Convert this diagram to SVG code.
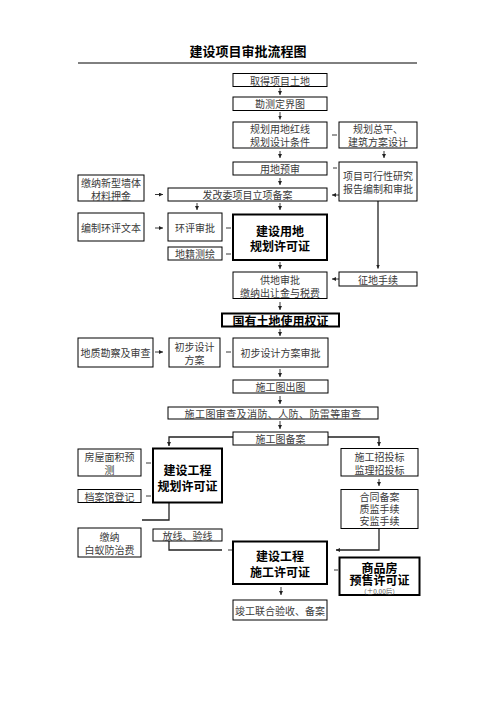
<svg xmlns="http://www.w3.org/2000/svg" width="496" height="702" viewBox="0 0 496 702">
<defs>
<marker id="ah" markerUnits="userSpaceOnUse" markerWidth="5" markerHeight="5" refX="4" refY="2" orient="auto">
<path d="M0,0 L4,2 L0,4 z" fill="#222"/>
</marker>
<style>
.b{fill:#fff;stroke:#000;stroke-width:1}
.k{fill:#fff;stroke:#000;stroke-width:2}
.t{font-family:"Noto Sans CJK SC","Noto Sans CJK JP",sans-serif;font-size:10px;fill:#3a3a3a;text-anchor:middle;dominant-baseline:central}
.h{font-family:"Noto Sans CJK SC","Noto Sans CJK JP",sans-serif;font-size:12px;font-weight:700;fill:#000;text-anchor:middle;dominant-baseline:central}
.s{font-family:"Noto Sans CJK SC","Noto Sans CJK JP",sans-serif;font-size:6.5px;fill:#555;text-anchor:middle;dominant-baseline:central}
.c line,.c polyline{stroke:#222;stroke-width:0.9;fill:none}
.a{marker-end:url(#ah)}
.w{stroke-width:1.3!important}
</style>
</defs>
<rect width="496" height="702" fill="#fff"/>
<g id="title">
<text x="248" y="50" style="font-family:'Noto Sans CJK SC',sans-serif;font-size:13px;font-weight:700;text-anchor:middle;dominant-baseline:central">建设项目审批流程图</text>
<line x1="78" y1="63" x2="417" y2="63" stroke="#000" stroke-width="1"/>
</g>
<g class="c" id="connectors">
<line class="a" x1="280" y1="88" x2="280" y2="95"/>
<line class="a" x1="280" y1="112" x2="280" y2="119.5"/>
<line x1="332" y1="135" x2="337" y2="135"/>
<line class="a" x1="280" y1="151" x2="280" y2="158"/>
<line class="a" x1="384" y1="151" x2="384" y2="158"/>
<line x1="333" y1="168" x2="337" y2="168"/>
<line class="a" x1="280" y1="178" x2="280" y2="185"/>
<line class="a" x1="155" y1="194.5" x2="163" y2="194.5"/>
<line class="a" x1="339" y1="195" x2="332" y2="195"/>
<line class="a" x1="197" y1="203" x2="197" y2="210"/>
<line class="a" x1="280" y1="203" x2="280" y2="210"/>
<line class="a" x1="155" y1="228" x2="163" y2="228"/>
<line x1="226" y1="228" x2="231" y2="228"/>
<line x1="226" y1="254" x2="231" y2="254"/>
<line class="a w" x1="378" y1="201" x2="378" y2="268.5"/>
<line class="a" x1="280" y1="262" x2="280" y2="269"/>
<line class="a" x1="339" y1="279" x2="332" y2="279"/>
<line class="a" x1="280" y1="302" x2="280" y2="310"/>
<line class="a" x1="280" y1="329" x2="280" y2="336"/>
<line class="a" x1="155" y1="352" x2="163" y2="352"/>
<line x1="226" y1="352" x2="231" y2="352"/>
<line class="a" x1="280" y1="369" x2="280" y2="377"/>
<line class="a" x1="280" y1="396" x2="280" y2="404"/>
<line class="a" x1="280" y1="421" x2="280" y2="429"/>
<polyline class="a w" points="233,437 169,437 169,446"/>
<polyline class="a w" points="328,437 379,437 379,446"/>
<line class="a" x1="379" y1="479" x2="379" y2="486"/>
<line x1="146" y1="463" x2="151" y2="463"/>
<line x1="146" y1="496" x2="151" y2="496"/>
<polyline class="w" points="169,503 169,520 142,520"/>
<polyline class="w" points="169,541 169,550 222,550"/>
<line x1="228" y1="550" x2="233" y2="550"/>
<polyline class="a w" points="379,528.5 379,550 336,550"/>
<line x1="334" y1="570" x2="338" y2="570"/>
<line class="a" x1="281" y1="587" x2="281" y2="595"/>
</g>
<g id="n1"><rect class="b" x="233" y="73.5" width="94" height="13"/><text class="t" x="280" y="80">取得项目土地</text></g>
<g id="n2"><rect class="b" x="233" y="97" width="94" height="13.5"/><text class="t" x="280" y="103.7">勘测定界图</text></g>
<g id="n3"><rect class="b" x="233" y="122" width="94" height="26"/><text class="t" x="280" y="128.5">规划用地红线</text><text class="t" x="280" y="141.5">规划设计条件</text></g>
<g id="n4"><rect class="b" x="339" y="122" width="78" height="26"/><text class="t" x="378" y="128.5">规划总平、</text><text class="t" x="378" y="141.5">建筑方案设计</text></g>
<g id="n5"><rect class="b" x="233" y="162" width="94" height="13"/><text class="t" x="280" y="168.5">用地预审</text></g>
<g id="n6"><rect class="b" x="339" y="162" width="78" height="39"/><text class="t" x="378" y="175">项目可行性研究</text><text class="t" x="378" y="188">报告编制和审批</text></g>
<g id="n7"><rect class="b" x="78" y="175" width="66" height="26"/><text class="t" x="111" y="182">缴纳新型墙体</text><text class="t" x="111" y="195">材料押金</text></g>
<g id="n8"><rect class="b" x="168" y="188" width="159" height="13"/><text class="t" x="247.5" y="194.5">发改委项目立项备案</text></g>
<g id="n9"><rect class="b" x="78" y="213" width="66" height="28"/><text class="t" x="111" y="227.5">编制环评文本</text></g>
<g id="n10"><rect class="b" x="168" y="213" width="54" height="28"/><text class="t" x="195" y="227.5">环评审批</text></g>
<g id="n11"><rect class="b" x="168" y="247" width="54" height="13"/><text class="t" x="195" y="253.5">地籍测绘</text></g>
<g id="n12"><rect class="k" x="233" y="214.5" width="94" height="45.5"/><text class="h" x="280" y="230">建设用地</text><text class="h" x="280" y="245.5">规划许可证</text></g>
<g id="n13"><rect class="b" x="339" y="272" width="78" height="14"/><text class="t" x="378" y="279">征地手续</text></g>
<g id="n14"><rect class="b" x="233" y="272" width="94" height="26.5"/><text class="t" x="280" y="279.5">供地审批</text><text class="t" x="280" y="292.5">缴纳出让金与税费</text></g>
<g id="n15"><rect class="k" x="222" y="313.5" width="117" height="13"/><text class="h" x="280.5" y="320">国有土地使用权证</text></g>
<g id="n16"><rect class="b" x="78" y="338" width="75" height="29"/><text class="t" x="115.5" y="352.5">地质勘察及审查</text></g>
<g id="n17"><rect class="b" x="169" y="338" width="51" height="29"/><text class="t" x="194.5" y="346">初步设计</text><text class="t" x="194.5" y="359.5">方案</text></g>
<g id="n18"><rect class="b" x="233" y="338" width="95" height="29"/><text class="t" x="280.5" y="352.5">初步设计方案审批</text></g>
<g id="n19"><rect class="b" x="233" y="380" width="95" height="13"/><text class="t" x="280.5" y="386.5">施工图出图</text></g>
<g id="n20"><rect class="b" x="168" y="407" width="210" height="12"/><text class="t" x="273" y="413" style="letter-spacing:0.4px">施工图审查及消防、人防、防雷等审查</text></g>
<g id="n21"><rect class="b" x="233" y="432" width="95" height="13"/><text class="t" x="280.5" y="438.5">施工图备案</text></g>
<g id="n22"><rect class="b" x="78" y="449" width="63" height="27"/><text class="t" x="109.5" y="456.5">房屋面积预</text><text class="t" x="109.5" y="469.5">测</text></g>
<g id="n23"><rect class="b" x="78" y="489.5" width="63" height="13"/><text class="t" x="109.5" y="496">档案馆登记</text></g>
<g id="n24"><rect class="k" x="153" y="448.5" width="69" height="54"/><text class="h" x="187.5" y="469">建设工程</text><text class="h" x="187.5" y="485">规划许可证</text></g>
<g id="n25"><rect class="b" x="341" y="448.5" width="77" height="27.5"/><text class="t" x="379.5" y="456.5">施工招投标</text><text class="t" x="379.5" y="469.5">监理招投标</text></g>
<g id="n26"><rect class="b" x="341" y="489.5" width="77" height="39"/><text class="t" x="379.5" y="496.5">合同备案</text><text class="t" x="379.5" y="508.5">质监手续</text><text class="t" x="379.5" y="520.5">安监手续</text></g>
<g id="n27"><rect class="b" x="78" y="528" width="63" height="29"/><text class="t" x="109.5" y="536">缴纳</text><text class="t" x="109.5" y="549.5">白蚁防治费</text></g>
<g id="n28"><rect class="b" x="153" y="529" width="69" height="12"/><text class="t" x="187.5" y="535">放线、验线</text></g>
<g id="n29"><rect class="k" x="233" y="541.5" width="94" height="42.5"/><text class="h" x="280" y="555.5">建设工程</text><text class="h" x="280" y="571.5">施工许可证</text></g>
<g id="n30"><rect class="k" x="339.5" y="557.5" width="80" height="37.5"/><text class="h" x="379.5" y="567">商品房</text><text class="h" x="379.5" y="579.5">预售许可证</text><text class="s" x="379.5" y="590.5">（±0.00后）</text></g>
<g id="n31"><rect class="b" x="233" y="600" width="94" height="20"/><text class="t" x="280" y="610">竣工联合验收、备案</text></g>
</svg>
